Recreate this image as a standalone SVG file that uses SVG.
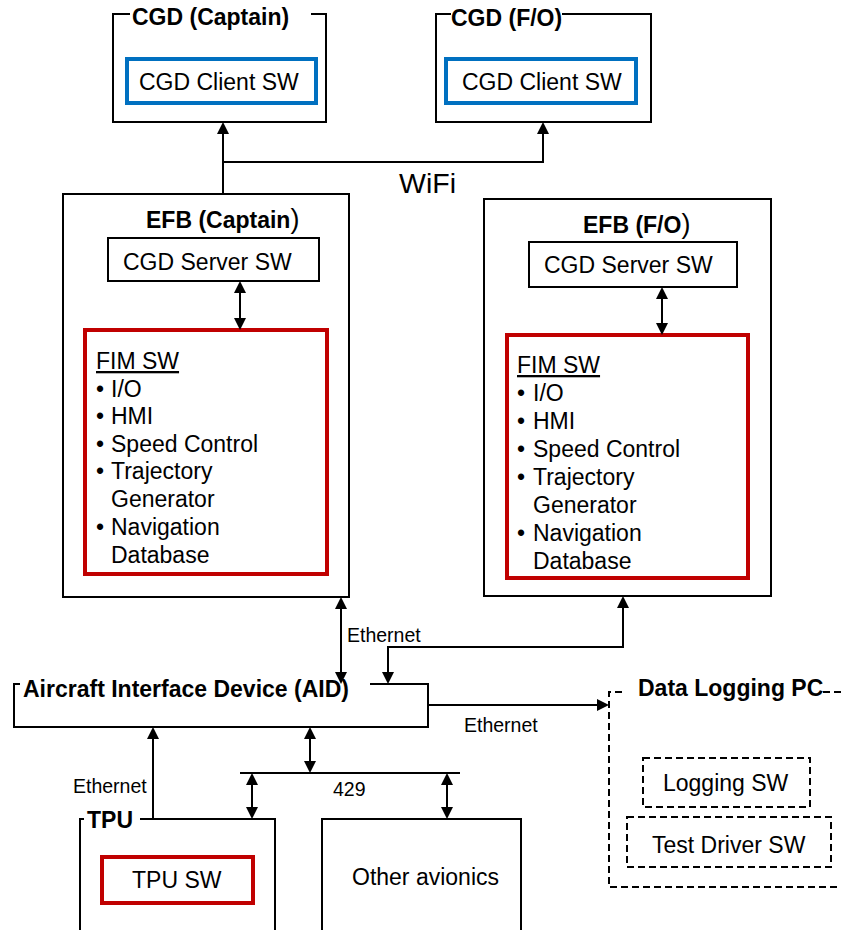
<svg xmlns="http://www.w3.org/2000/svg" width="841" height="930" viewBox="0 0 841 930">
  <style>
    text { font-family: "Liberation Sans", Arial, sans-serif; font-size: 23px; fill: #000; }
    .title { font-weight: bold; }
    .lbl { font-size: 19.5px; }
    .wifi { font-size: 28.5px; }
    .box { fill: none; stroke: #000; stroke-width: 2; }
    .dash { fill: none; stroke: #000; stroke-width: 2; stroke-dasharray: 7 4; }
    .blue { fill: none; stroke: #0070C0; stroke-width: 4; }
    .red { fill: none; stroke: #C00000; stroke-width: 4; }
    .wire { fill: none; stroke: #000; stroke-width: 2; }
    .one { marker-end: url(#ah); }
    .two { marker-start: url(#ah); marker-end: url(#ah); }
    .paren { font-weight: normal; font-size: 27px; }
  </style>
  <defs>
    <marker id="ah" viewBox="0 0 12 12" markerWidth="12" markerHeight="12" refX="10" refY="6" orient="auto-start-reverse" markerUnits="userSpaceOnUse">
      <path d="M0,0 L12,6 L0,12 z" fill="#000"/>
    </marker>
  </defs>

  <!-- Cockpit graphical displays -->
  <g id="cgd-captain">
    <path class="box" d="M130,14 H113 V122 H326 V14 H311"/>
    <text class="title" x="132" y="25">CGD (Captain)</text>
    <rect class="blue" x="127" y="59" width="189" height="44"/>
    <text x="139" y="90">CGD Client SW</text>
  </g>
  <g id="cgd-fo">
    <path class="box" d="M451,14 H436 V122 H651 V14 H562"/>
    <text class="title" x="451" y="26">CGD (F/O)</text>
    <rect class="blue" x="446" y="59" width="190" height="44"/>
    <text x="462" y="90">CGD Client SW</text>
  </g>

  <!-- Electronic flight bags -->
  <g id="efb-captain">
    <rect class="box" x="63" y="194" width="286" height="403"/>
    <text class="title" x="146" y="228">EFB (Captain<tspan class="paren">)</tspan></text>
    <rect class="box" x="108" y="238" width="211" height="43"/>
    <text x="123" y="270">CGD Server SW</text>
    <rect class="red" x="85" y="330" width="242" height="244"/>
    <text x="96" y="369" text-decoration="underline">FIM SW</text>
    <text x="96" y="397">•<tspan x="111">I/O</tspan></text>
    <text x="96" y="424">•<tspan x="111">HMI</tspan></text>
    <text x="96" y="452">•<tspan x="111">Speed Control</tspan></text>
    <text x="96" y="479">•<tspan x="111">Trajectory</tspan></text>
    <text x="111" y="507">Generator</text>
    <text x="96" y="535">•<tspan x="111">Navigation</tspan></text>
    <text x="111" y="563">Database</text>
  </g>
  <g id="efb-fo">
    <rect class="box" x="484" y="199" width="287" height="397"/>
    <text class="title" x="583" y="233">EFB (F/O<tspan class="paren">)</tspan></text>
    <rect class="box" x="529" y="242" width="208" height="45"/>
    <text x="544" y="273">CGD Server SW</text>
    <rect class="red" x="507" y="335" width="241" height="243"/>
    <text x="517" y="373" text-decoration="underline">FIM SW</text>
    <text x="517" y="401">•<tspan x="533">I/O</tspan></text>
    <text x="517" y="429">•<tspan x="533">HMI</tspan></text>
    <text x="517" y="457">•<tspan x="533">Speed Control</tspan></text>
    <text x="517" y="485">•<tspan x="533">Trajectory</tspan></text>
    <text x="533" y="513">Generator</text>
    <text x="517" y="541">•<tspan x="533">Navigation</tspan></text>
    <text x="533" y="569">Database</text>
  </g>

  <!-- Aircraft interface device -->
  <g id="aid">
    <path class="box" d="M20,684 H14 V727 H428 V684 H370"/>
    <text class="title" x="23" y="697">Aircraft Interface Device (AID)</text>
  </g>

  <!-- Data logging PC -->
  <g id="data-logging-pc">
    <path class="dash" d="M622,692 H609 V887 H845"/>
    <path class="dash" d="M823,692 H845"/>
    <text class="title" x="638" y="696">Data Logging PC</text>
    <rect class="dash" x="643" y="758" width="167" height="49"/>
    <text x="663" y="791">Logging SW</text>
    <rect class="dash" x="627" y="817" width="204" height="50"/>
    <text x="652" y="853">Test Driver SW</text>
  </g>

  <!-- Test processing unit -->
  <g id="tpu">
    <path class="box" d="M84,819 H80 V935"/>
    <path class="box" d="M140,819 H275 V935"/>
    <text class="title" x="87" y="828">TPU</text>
    <rect class="red" x="102" y="857" width="151" height="46"/>
    <text x="132" y="888">TPU SW</text>
  </g>

  <g id="other-avionics">
    <path class="box" d="M322,935 V819 H521 V935"/>
    <text x="352" y="885">Other avionics</text>
  </g>

  <!-- Connectors -->
  <g id="connectors">
    <path class="wire one" d="M223,194 V124"/>
    <path class="wire one" d="M223,162 H543 V124"/>
    <path class="wire two" d="M240,283 V328"/>
    <path class="wire two" d="M662,289 V333"/>
    <path class="wire two" d="M341,599 V682"/>
    <path class="wire two" d="M623,598 V647 H388 V682"/>
    <path class="wire one" d="M428,705 H607"/>
    <path class="wire one" d="M153,819 V729"/>
    <path class="wire two" d="M310,729 V771"/>
    <path class="wire" d="M240,773 H460"/>
    <path class="wire two" d="M252,775 V817"/>
    <path class="wire two" d="M447,775 V817"/>
    <text class="wifi" x="399" y="193">WiFi</text>
    <text class="lbl" x="347" y="642">Ethernet</text>
    <text class="lbl" x="464" y="732">Ethernet</text>
    <text class="lbl" x="73" y="793">Ethernet</text>
    <text class="lbl" x="333" y="796">429</text>
  </g>
</svg>
